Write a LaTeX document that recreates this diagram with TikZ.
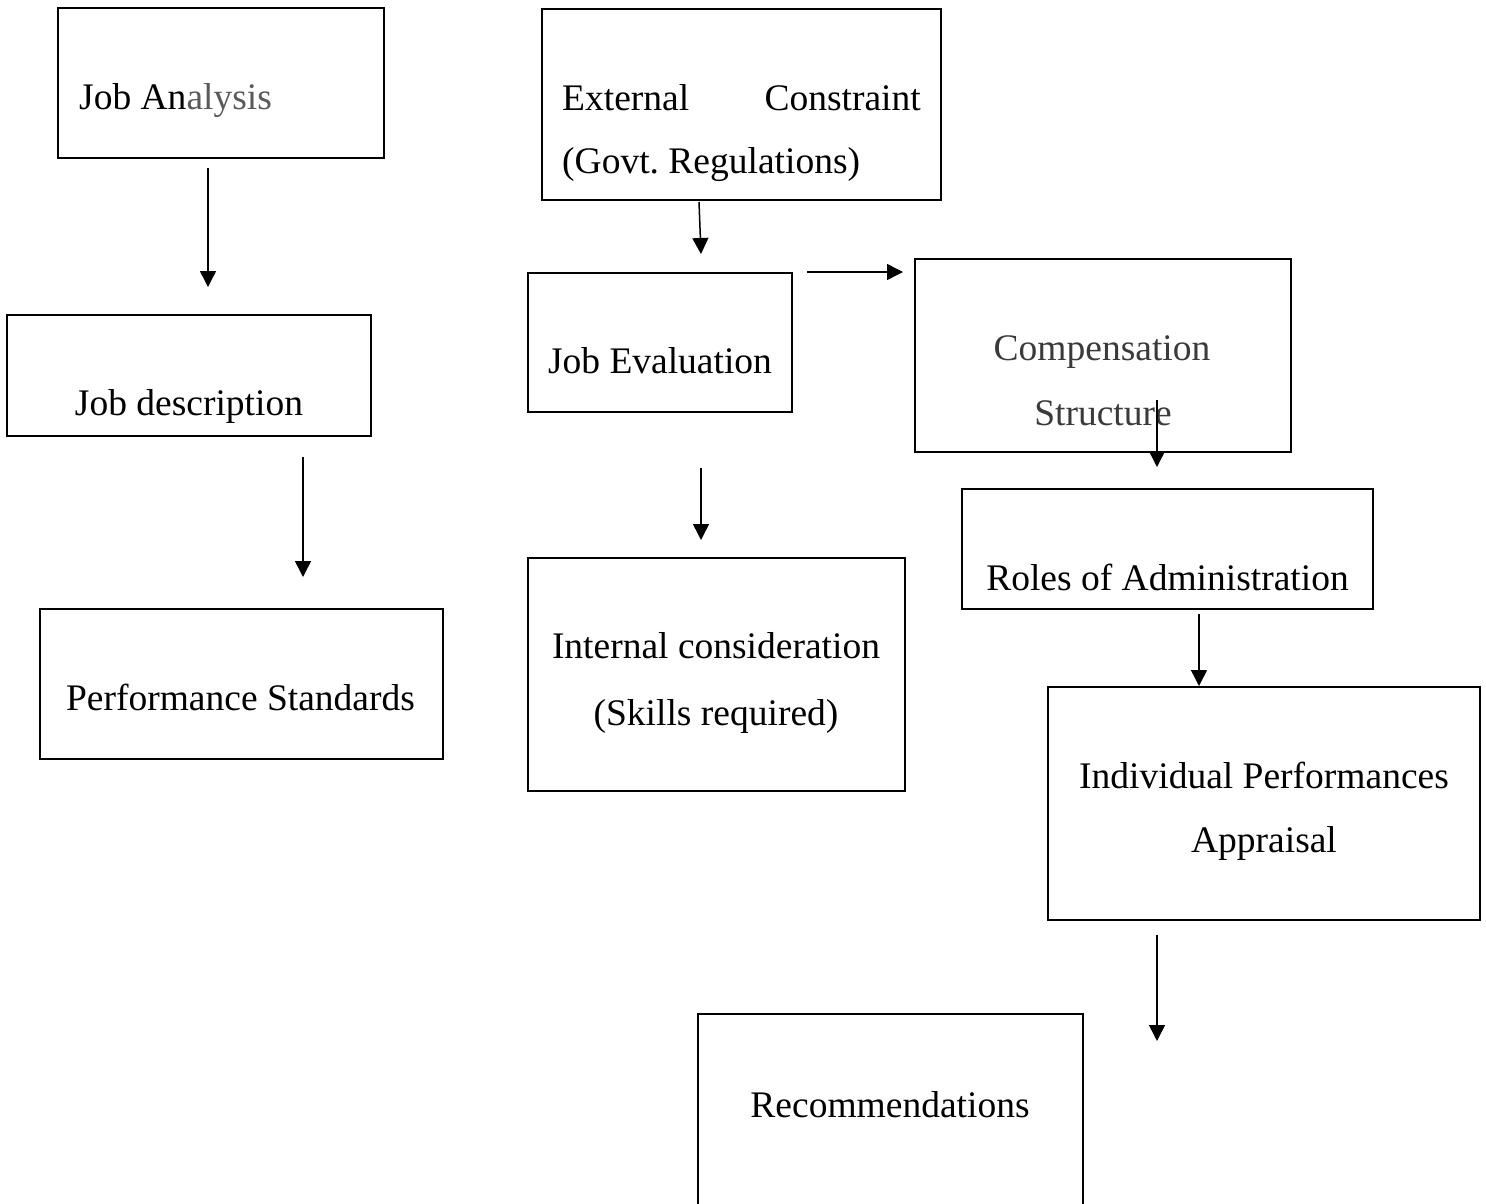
\documentclass[tikz,border=0pt]{standalone}
\usepackage{fontspec}
\setmainfont{Liberation Serif}
\usetikzlibrary{arrows.meta}
\definecolor{fadegray}{RGB}{90,90,90}
\definecolor{compgray}{RGB}{58,58,58}
\frenchspacing

\begin{document}
\begin{tikzpicture}[x=1pt,y=-1pt,
  box/.style={draw,line width=1.6pt,inner sep=0pt},
  txt/.style={inner sep=0pt,anchor=base,font=\fontsize{37.5}{66}\selectfont},
  arr/.style={line width=1.5pt,-{Triangle[width=16pt,length=16pt]}}]
\useasboundingbox (0,0) rectangle (1486,1203);
% boxes
\node[box,minimum width=326pt,minimum height=150pt] (ja) at (221,83) {};
\node[box,minimum width=364pt,minimum height=121pt] (jd) at (189,375.5) {};
\node[box,minimum width=403pt,minimum height=150pt] (ps) at (241.5,684) {};
\node[box,minimum width=399pt,minimum height=191pt] (ec) at (741.5,104.5) {};
\node[box,minimum width=264pt,minimum height=139pt] (je) at (660,342.5) {};
\node[box,minimum width=376pt,minimum height=193pt] (cs) at (1103,355.5) {};
\node[box,minimum width=411pt,minimum height=120pt] (ra) at (1167.5,549) {};
\node[box,minimum width=377pt,minimum height=233pt] (ic) at (716.5,674.5) {};
\node[box,minimum width=432pt,minimum height=233pt] (ip) at (1264,803.5) {};
\node[box,minimum width=385pt,minimum height=196pt] (rc) at (890.5,1112) {};
% texts
\node[txt,anchor=base west] (jaT) at (79,109) {Job An\textcolor{fadegray}{alysis}};
\node[txt] (jdT) at (189,415) {Job description};
\node[txt] (psT) at (240.5,710) {Performance Standards};
\node[txt,anchor=base west] (ecT1) at (562,110) {External};
\node[txt,anchor=base east] (ecT2) at (921,110) {Constraint};
\node[txt,anchor=base west] (ecT3) at (562,173) {(Govt. Regulations)};
\node[txt] (jeT) at (660,373) {Job Evaluation};
\node[txt,text=compgray] (csT1) at (1102,360) {Compensation};
\node[txt,text=compgray] (csT2) at (1103,425) {Structure};
\node[txt] (raT) at (1167.5,590) {Roles of Administration};
\node[txt] (icT1) at (716,658) {Internal consideration};
\node[txt] (icT2) at (716,725) {(Skills required)};
\node[txt] (ipT1) at (1264,788) {Individual Performances};
\node[txt] (ipT2) at (1264,852) {Appraisal};
\node[txt] (rcT) at (890,1117) {Recommendations};
% arrows
\coordinate (a1) at (208,168);   \coordinate (b1) at (208,287);
\coordinate (a2) at (303,457);   \coordinate (b2) at (303,577);
\coordinate (a3) at (699,202);   \coordinate (b3) at (701,254);
\coordinate (a4) at (807,272);   \coordinate (b4) at (903,272);
\coordinate (a5) at (701,468);   \coordinate (b5) at (701,540);
\coordinate (a6) at (1157,400);  \coordinate (b6) at (1157,467);
\coordinate (a7) at (1199,614);  \coordinate (b7) at (1199,686);
\coordinate (a8) at (1157,935);  \coordinate (b8) at (1157,1041);
\foreach \i in {1,...,8}
\draw[arr] (a\i) -- (b\i);
\end{tikzpicture}
\end{document}
